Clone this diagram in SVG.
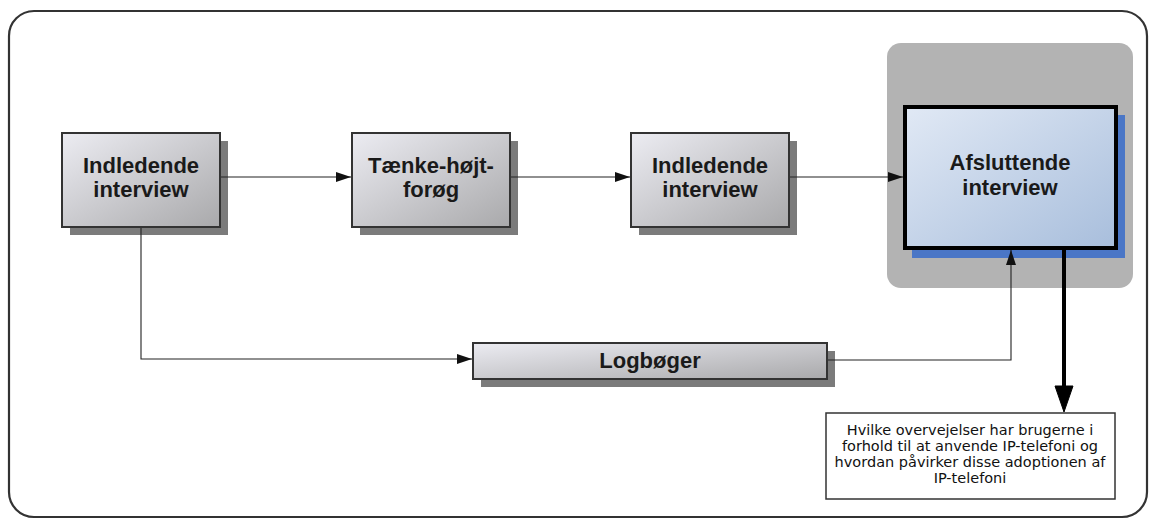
<svg xmlns="http://www.w3.org/2000/svg" width="1156" height="520" viewBox="0 0 1156 520">
  <defs>
    <linearGradient id="gGray" x1="0" y1="0" x2="1" y2="1">
      <stop offset="0" stop-color="#ececf2"/>
      <stop offset="1" stop-color="#a9a9ab"/>
    </linearGradient>
    <linearGradient id="gBlue" x1="0" y1="0" x2="1" y2="1">
      <stop offset="0" stop-color="#e1e9f5"/>
      <stop offset="1" stop-color="#a8bedc"/>
    </linearGradient>
    <marker id="arr" markerUnits="userSpaceOnUse" markerWidth="16" markerHeight="12" refX="15" refY="6" orient="auto" overflow="visible">
      <path d="M0,1 L15,6 L0,11 z" fill="#111"/>
    </marker>
  </defs>
  <style>
    .frame { fill: #fff; stroke: #333; stroke-width: 2.2; }
    .shadow { fill: #7b7b7b; }
    .box { fill: url(#gGray); stroke: #333; stroke-width: 2; }
    .lbl { font-family: "Liberation Sans", Arial, sans-serif; font-weight: bold; font-size: 22px; fill: #1a1a1a; text-anchor: middle; }
    .note { font-family: "DejaVu Sans", Verdana, sans-serif; font-size: 14.5px; fill: #111; text-anchor: middle; }
    .conn { fill: none; stroke: #222; stroke-width: 1.1; }
  </style>

  <!-- outer frame -->
  <rect class="frame" x="9" y="11" width="1138" height="506" rx="25" ry="25"/>

  <!-- grey panel behind the final interview -->
  <rect x="887" y="43" width="246" height="245" rx="14" ry="14" fill="#b3b3b3"/>

  <g id="node-indledende-1">
    <rect class="shadow" x="70" y="141" width="158" height="94"/>
    <rect class="box" x="62" y="133" width="158" height="94"/>
    <text class="lbl" x="141" y="173">Indledende</text>
    <text class="lbl" x="141" y="197">interview</text>
  </g>

  <g id="node-taenke">
    <rect class="shadow" x="360" y="141" width="158" height="94"/>
    <rect class="box" x="352" y="133" width="158" height="94"/>
    <text class="lbl" x="431" y="173">Tænke-højt-</text>
    <text class="lbl" x="431" y="197">forøg</text>
  </g>

  <g id="node-indledende-2">
    <rect class="shadow" x="639" y="141" width="158" height="94"/>
    <rect class="box" x="631" y="133" width="158" height="94"/>
    <text class="lbl" x="710" y="173">Indledende</text>
    <text class="lbl" x="710" y="197">interview</text>
  </g>

  <g id="node-afsluttende">
    <rect x="912" y="115" width="213" height="143" fill="#4a76c6"/>
    <rect x="905" y="107" width="211" height="141" fill="url(#gBlue)" stroke="#000" stroke-width="4"/>
    <text class="lbl" x="1010" y="170">Afsluttende</text>
    <text class="lbl" x="1010" y="195">interview</text>
  </g>

  <g id="node-logboger">
    <rect class="shadow" x="481" y="351" width="354" height="36"/>
    <rect class="box" x="473" y="343" width="354" height="36"/>
    <text class="lbl" x="650" y="368">Logbøger</text>
  </g>

  <g id="node-question">
    <rect x="826" y="413" width="289" height="86" fill="#fff" stroke="#333" stroke-width="1.5"/>
    <text class="note" x="970" y="435">Hvilke overvejelser har brugerne i</text>
    <text class="note" x="970" y="451">forhold til at anvende IP-telefoni og</text>
    <text class="note" x="970" y="467">hvordan påvirker disse adoptionen af</text>
    <text class="note" x="970" y="483">IP-telefoni</text>
  </g>

  <g id="connectors">
    <line class="conn" x1="221" y1="177" x2="351" y2="177" marker-end="url(#arr)"/>
    <line class="conn" x1="511" y1="177" x2="630" y2="177" marker-end="url(#arr)"/>
    <line class="conn" x1="790" y1="177" x2="903" y2="177" marker-end="url(#arr)"/>
    <polyline class="conn" points="141,228 141,359 472,359" marker-end="url(#arr)"/>
    <polyline class="conn" points="828,360 1011,360 1011,250" marker-end="url(#arr)"/>
    <!-- thick output arrow to the research question -->
    <line x1="1064" y1="250" x2="1064" y2="390" stroke="#000" stroke-width="4"/>
    <path d="M1055,386 L1073,386 L1064,412 z" fill="#000" stroke="#000" stroke-width="1"/>
  </g>
</svg>
